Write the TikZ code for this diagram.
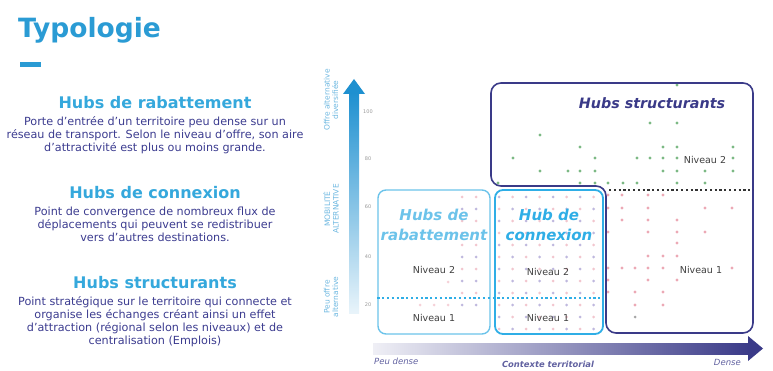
\documentclass[tikz,border=0pt]{standalone}
\usepackage{fontspec}
\setmainfont{DejaVu Sans}
\usetikzlibrary{positioning}

\definecolor{titleblue}{HTML}{2A9BD4}
\definecolor{headblue}{HTML}{35A8DC}
\definecolor{bodynavy}{HTML}{3B3B8F}
\definecolor{rabblue}{HTML}{6CC3EA}
\definecolor{conblue}{HTML}{2FAEE6}
\definecolor{strnavy}{HTML}{3A3A88}
\definecolor{dotgreen}{HTML}{5BA865}
\definecolor{dotred}{HTML}{E58C9C}
\definecolor{dotlav}{HTML}{B4ACD8}
\definecolor{axisblue}{HTML}{1E90D0}

\begin{document}
\begin{tikzpicture}[
    x=1pt, y=-1pt,
    heading/.style={inner sep=0pt, text=headblue, font=\fontsize{16}{18}\selectfont\bfseries},
    body/.style={inner sep=0pt, align=center, text=bodynavy, font=\fontsize{11.2}{13}\selectfont},
    hubtitle/.style={inner sep=0pt, align=center, font=\fontsize{15}{20}\selectfont\bfseries\itshape},
    hubbox/.style={draw, rounded corners=8pt, line width=1.4pt, inner sep=0pt},
    niveau/.style={inner sep=0pt, text=black!75, font=\fontsize{9.5}{11}\selectfont},
    ytick/.style={inner sep=0pt, text=black!40, font=\fontsize{5}{6}\selectfont},
    ylab/.style={inner sep=0pt, align=center, rotate=90, text=axisblue!65, font=\fontsize{7.5}{8.5}\selectfont},
    xlab/.style={inner sep=0pt, text=strnavy!80, font=\fontsize{8.5}{10}\selectfont\itshape}
]
\useasboundingbox (0,0) rectangle (773,371);

% Title and text column
\node (title) [anchor=base west, inner sep=0pt, text=titleblue, font=\fontsize{26.5}{30}\selectfont\bfseries] at (18,38) {Typologie};
\fill[titleblue] (20,62) rectangle (41,67);

\node (h1) [heading] at (155,103) {Hubs de rabattement};
\node (b1) [body, below=7pt of h1] {Porte d'entrée d'un territoire peu dense sur un\\réseau de transport. Selon le niveau d'offre, son aire\\d'attractivité est plus ou moins grande.};
\node (h2) [heading] at (155,193) {Hubs de connexion};
\node (b2) [body, below=7pt of h2] {Point de convergence de nombreux flux de\\déplacements qui peuvent se redistribuer\\vers d'autres destinations.};
\node (h3) [heading] at (155,283) {Hubs structurants};
\node (b3) [body, below=7pt of h3] {Point stratégique sur le territoire qui connecte et\\organise les échanges créant ainsi un effet\\d'attraction (régional selon les niveaux) et de\\centralisation (Emplois)};

% Scatter dots, left part
\foreach \c in {0,...,7}{\foreach \r in {0,...,11}{
  \ifodd\numexpr\c+\r\relax \def\dc{dotred!50}\else\def\dc{dotlav!85}\fi
  \fill[\dc] (499+13.5*\c,197+12*\r) circle (1.5pt);
}}
\foreach \c in {0,1}{\foreach \r in {0,...,9}{
  \ifodd\r \def\dc{dotlav!85}\else\def\dc{dotred!50}\fi
  \fill[\dc] (462+14*\c,197+12*\r) circle (1.5pt);
}}
\foreach \x in {420,434,448}
  \fill[dotred!40] (\x,305) circle (1.5pt);
\fill[dotred!40] (448,282) circle (1.5pt);

% Scatter dots, green (upper right)
\foreach \x/\y in {677/85, 650/123, 677/123, 540/135, 580/147, 663/147, 677/147, 733/147,
    513/158, 595/158, 637/158, 650/158, 663/158, 677/158, 733/158,
    540/171, 568/171, 580/171, 595/171, 663/171, 677/171, 705/171, 733/171,
    498/183, 580/183, 595/183, 608/183, 623/183, 637/183, 677/183, 705/183}
  \fill[dotgreen!80] (\x,\y) circle (1.7pt);

% Scatter dots, red (lower right)
\foreach \x/\y in {608/195, 622/195, 648/195, 663/195,
    608/208, 622/208, 648/208, 705/208, 732/208,
    622/220, 648/220, 677/220,
    608/232, 648/232, 677/232, 705/232, 677/243,
    648/256, 663/256, 677/256,
    608/268, 622/268, 635/268, 648/268, 663/268, 732/268,
    608/280, 648/280, 677/280,
    608/292, 635/292, 663/292, 635/305, 663/305}
  \fill[dotred!75] (\x,\y) circle (1.7pt);
\fill[black!35] (635,317) circle (1.5pt);

% Vertical axis
\shade[bottom color=axisblue!10, top color=axisblue] (349,313) rectangle (359,92);
\fill[axisblue] (343,94) -- (365,94) -- (354,79) -- cycle;
\node (ytop) [ylab] at (331,100) {Offre alternative\\diversifiée};
\node (ymid) [ylab] at (331,209) {MOBILITÉ\\ALTERNATIVE};
\node (ybot) [ylab] at (331,297) {Peu offre\\alternative};
\foreach \v/\y in {100/112, 80/159, 60/207, 40/257, 20/305}
  \node (yt\v) [ytick] at (368,\y) {\v};

% Horizontal axis
\shade[left color=strnavy!8, right color=strnavy] (373,343) rectangle (750,354);
\fill[strnavy] (748,336) -- (748,361) -- (763,348.5) -- cycle;
\node (xlow) [xlab, anchor=west] at (374,361) {Peu dense};
\node (xmid) [xlab, font=\fontsize{8.4}{10}\selectfont\bfseries\itshape] at (548,364) {Contexte territorial};
\node (xhigh) [xlab, anchor=east] at (741,362) {Dense};

% Hub areas
\node (rab) [hubbox, rabblue, minimum width=112pt, minimum height=144pt] at (434,262) {};
\node (con) [hubbox, conblue, line width=1.8pt, minimum width=108pt, minimum height=144pt] at (549,262) {};
\draw[strnavy, line width=1.6pt, rounded corners=10pt]
  (491,83) -- (753,83) -- (753,333) -- (606,333) -- (606,186) -- (491,186) -- cycle;

% Level separators
\draw[conblue, line width=2.2pt, dash pattern=on 2.2pt off 2.6pt] (rab.west |- 0,298) -- (con.east |- 0,298);
\draw[black!80, line width=2.2pt, dash pattern=on 2.2pt off 2.6pt] (609,190) -- (753,190);

% Hub labels
\node (trab) [hubtitle, text=rabblue] at (434,225) {Hubs de\\rabattement};
\node (tcon) [hubtitle, text=conblue] at (549,225) {Hub de\\connexion};
\node (tstr) [hubtitle, text=strnavy, font=\fontsize{14.3}{16}\selectfont\bfseries\itshape] at (652,103) {Hubs structurants};

\node (rab2) [niveau] at (434,270) {Niveau 2};
\node (rab1) [niveau] at (434,318) {Niveau 1};
\node (con2) [niveau] at (548,272) {Niveau 2};
\node (con1) [niveau] at (548,318) {Niveau 1};
\node (str2) [niveau] at (705,160) {Niveau 2};
\node (str1) [niveau] at (701,270) {Niveau 1};
\end{tikzpicture}
\end{document}
